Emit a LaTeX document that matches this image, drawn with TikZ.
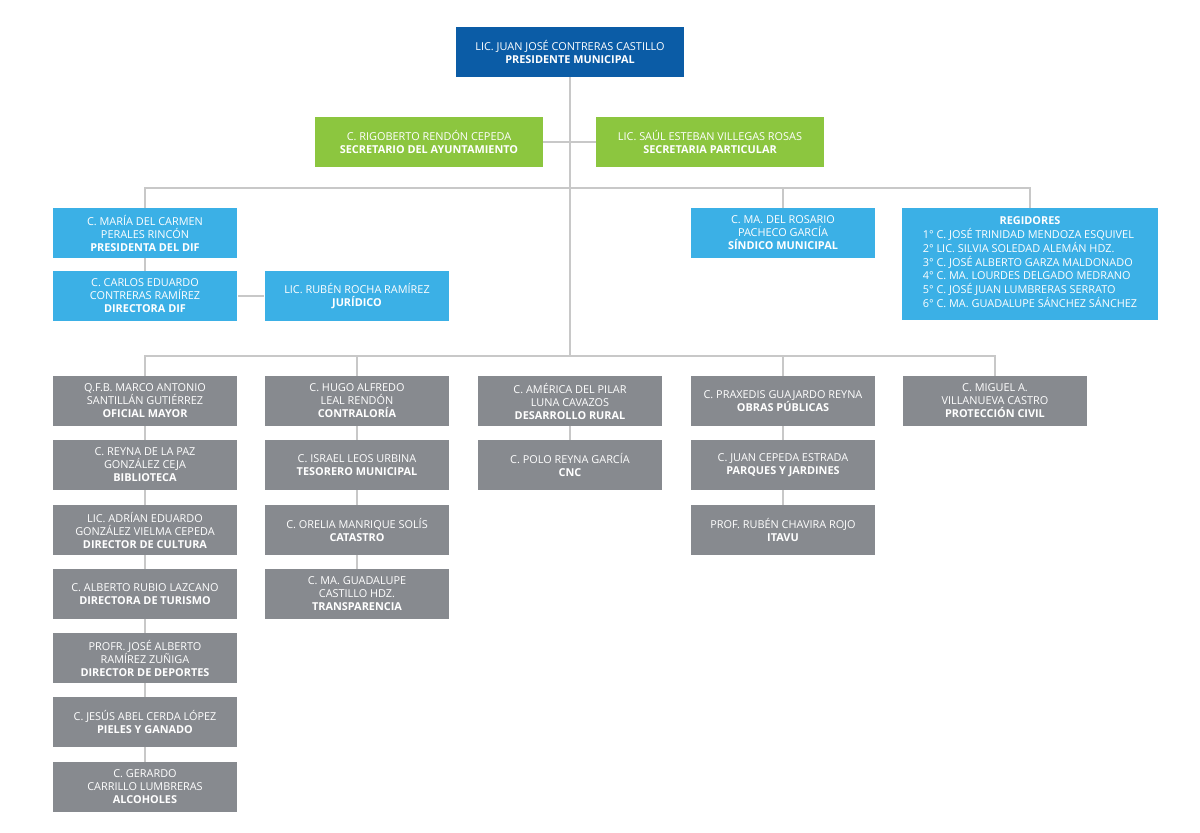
\documentclass[tikz,border=0pt]{standalone}
\usepackage{fontspec}
\setmainfont{Open Sans}
\definecolor{darkblue}{HTML}{0B5CA6}
\definecolor{leafgreen}{HTML}{8CC63F}
\definecolor{skyblue}{HTML}{3BB0E6}
\definecolor{slate}{HTML}{878A8F}
\definecolor{wire}{HTML}{C8C8C8}
\tikzset{
  box/.style={rectangle,text=white,align=center,inner sep=1pt,
    minimum width=3.7cm,minimum height=1cm,
    font=\fontsize{6.2}{7.4}\selectfont},
  head/.style={box,fill=darkblue,minimum width=4.56cm},
  green/.style={box,fill=leafgreen,minimum width=4.56cm},
  blue/.style={box,fill=skyblue},
  gray/.style={box,fill=slate},
  link/.style={draw=wire,line width=0.6pt}
}
\begin{document}
\begin{tikzpicture}[x=0.02cm,y=-0.02cm]
\useasboundingbox (0,0) rectangle (1200,832);
% top levels
\node[head] (pres) at (570,52) {LIC. JUAN JOSÉ CONTRERAS CASTILLO\\\textbf{PRESIDENTE MUNICIPAL}};
\node[green] (secay) at (429,142) {C. RIGOBERTO RENDÓN CEPEDA\\\textbf{SECRETARIO DEL AYUNTAMIENTO}};
\node[green] (secpa) at (710,142) {LIC. SAÚL ESTEBAN VILLEGAS ROSAS\\\textbf{SECRETARIA PARTICULAR}};
% blue row
\node[blue] (dif) at (145,233) {C. MARÍA DEL CARMEN\\PERALES RINCÓN\\\textbf{PRESIDENTA DEL DIF}};
\node[blue] (dirdif) at (145,296) {C. CARLOS EDUARDO\\CONTRERAS RAMÍREZ\\\textbf{DIRECTORA DIF}};
\node[blue] (jur) at (357,296) {LIC. RUBÉN ROCHA RAMÍREZ\\\textbf{JURÍDICO}};
\node[blue] (sind) at (783,233) {C. MA. DEL ROSARIO\\PACHECO GARCÍA\\\textbf{SÍNDICO MUNICIPAL}};
\node[blue,minimum width=5.12cm,minimum height=2.24cm] (reg) at (1030,264)
  {\textbf{REGIDORES}\\[1pt]
   \begin{tabular}{@{}l@{}}1° C. JOSÉ TRINIDAD MENDOZA ESQUIVEL\\2° LIC. SILVIA SOLEDAD ALEMÁN HDZ.\\3° C. JOSÉ ALBERTO GARZA MALDONADO\\4° C. MA. LOURDES DELGADO MEDRANO\\5° C. JOSÉ JUAN LUMBRERAS SERRATO\\6° C. MA. GUADALUPE SÁNCHEZ SÁNCHEZ\end{tabular}};
% gray column 1
\node[gray] (ofm) at (145,401) {Q.F.B. MARCO ANTONIO\\SANTILLÁN GUTIÉRREZ\\\textbf{OFICIAL MAYOR}};
\node[gray] (bib) at (145,465) {C. REYNA DE LA PAZ\\GONZÁLEZ CEJA\\\textbf{BIBLIOTECA}};
\node[gray] (cul) at (145,530) {LIC. ADRÍAN EDUARDO\\GONZÁLEZ VIELMA CEPEDA\\\textbf{DIRECTOR DE CULTURA}};
\node[gray] (tur) at (145,594) {C. ALBERTO RUBIO LAZCANO\\\textbf{DIRECTORA DE TURISMO}};
\node[gray] (dep) at (145,658) {PROFR. JOSÉ ALBERTO\\RAMÍREZ ZUÑIGA\\\textbf{DIRECTOR DE DEPORTES}};
\node[gray] (pie) at (145,722) {C. JESÚS ABEL CERDA LÓPEZ\\\textbf{PIELES Y GANADO}};
\node[gray] (alc) at (145,787) {C. GERARDO\\CARRILLO LUMBRERAS\\\textbf{ALCOHOLES}};
% gray column 2
\node[gray] (con) at (357,401) {C.\ HUGO ALFREDO\\LEAL RENDÓN\\\textbf{CONTRALORÍA}};
\node[gray] (tes) at (357,465) {C. ISRAEL LEOS URBINA\\\textbf{TESORERO MUNICIPAL}};
\node[gray] (cat) at (357,530) {C. ORELIA MANRIQUE SOLÍS\\\textbf{CATASTRO}};
\node[gray] (tra) at (357,594) {C. MA. GUADALUPE\\CASTILLO HDZ.\\\textbf{TRANSPARENCIA}};
% gray column 3
\node[gray] (rur) at (570,401) {C. AMÉRICA DEL PILAR\\LUNA CAVAZOS\\\textbf{DESARROLLO RURAL}};
\node[gray] (cnc) at (570,465) {C. POLO REYNA GARCÍA\\\textbf{CNC}};
% gray column 4
\node[gray] (obr) at (783,401) {C. PRAXEDIS GUAJARDO REYNA\\\textbf{OBRAS PÚBLICAS}};
\node[gray] (par) at (783,465) {C. JUAN CEPEDA ESTRADA\\\textbf{PARQUES Y JARDINES}};
\node[gray] (ita) at (783,530) {PROF. RUBÉN CHAVIRA ROJO\\\textbf{ITAVU}};
% gray column 5
\node[gray] (pro) at (995,401) {C. MIGUEL A.\\VILLANUEVA CASTRO\\\textbf{PROTECCIÓN CIVIL}};
% connectors
\coordinate (mid) at (570,356);
\begin{scope}[on background layer/.style={}]
\draw[link] (pres) -- (mid);
\draw[link] (secay) -- (secpa);
\draw[link] (dif.north) |- (570,188) -| (reg.north);
\draw[link] (sind.north) -- (783,188);
\draw[link] (dif) -- (dirdif);
\draw[link] (dirdif) -- (jur);
\draw[link] (ofm.north) |- (mid) -| (pro.north);
\draw[link] (con.north) -- (357,356);
\draw[link] (obr.north) -- (783,356);
\draw[link] (ofm) -- (bib) -- (cul) -- (tur) -- (dep) -- (pie) -- (alc);
\draw[link] (con) -- (tes) -- (cat) -- (tra);
\draw[link] (rur) -- (cnc);
\draw[link] (obr) -- (par) -- (ita);
\end{scope}
\end{tikzpicture}
\end{document}
